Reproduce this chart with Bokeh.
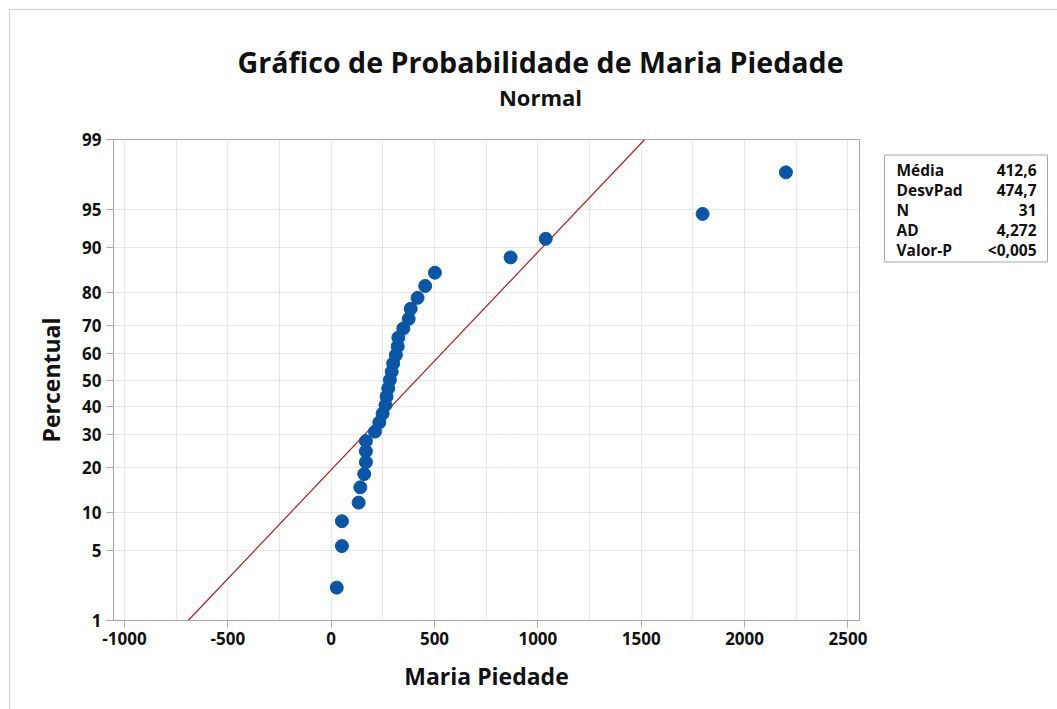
from statistics import NormalDist
from bokeh.plotting import figure
from bokeh.layouts import column, row
from bokeh.models import Range1d, FixedTicker
from bokeh.core.properties import value
from bokeh.embed import file_html
from bokeh.resources import INLINE

# ---------------- data ----------------
title_text = "Gráfico de Probabilidade de Maria Piedade"
subtitle_text = "Normal"
x_label = "Maria Piedade"
y_label = "Percentual"

values = [27, 52, 52, 133, 141, 160, 168, 168, 168, 212, 233, 249, 263, 268,
          276, 284, 293, 300, 313, 322, 325, 349, 375, 385, 418, 455, 502,
          868, 1038, 1797, 2200]
percentiles = [2.23, 5.41, 8.60, 11.78, 14.97, 18.15, 21.34, 24.52, 27.71,
               30.89, 34.08, 37.26, 40.45, 43.63, 46.82, 50.00, 53.18, 56.37,
               59.55, 62.74, 65.92, 69.11, 72.29, 75.48, 78.66, 81.85, 85.03,
               88.22, 91.40, 94.59, 97.77]
mean = 412.6
stdev = 474.7

stat_names = ["Média", "DesvPad", "N", "AD", "Valor-P"]
stat_values = ["412,6", "474,7", "31", "4,272", "<0,005"]

y_tick_percents = [1, 5, 10, 20, 30, 40, 50, 60, 70, 80, 90, 95, 99]
x_major_ticks = [-1000, -500, 0, 500, 1000, 1500, 2000, 2500]
x_tick_labels = ["-1000", "-500", "0", "500", "1000", "1500", "2000", "2500"]
x_minor_ticks = [-750, -250, 250, 750, 1250, 1750, 2250]

# ---------------- transforms ----------------
nd = NormalDist()
def pz(pct):
    return nd.inv_cdf(pct / 100.0)

z_points = [pz(v) for v in percentiles]
y_ticks = [pz(v) for v in y_tick_percents]
z_lo, z_hi = pz(1), pz(99)
line_x = [mean + z_lo * stdev, mean + z_hi * stdev]
line_y = [z_lo, z_hi]

FONT = "Open Sans"
TXT = "#111111"
GRID = "#cfcfcf"
AXC = "#a8a8a8"

TOTAL_W = 1047
TITLE_H = 110
MAIN_W = 859
MAIN_H = 589
STATS_W = TOTAL_W - MAIN_W


def bare(fig):
    fig.xaxis.visible = False
    fig.yaxis.visible = False
    fig.xgrid.visible = False
    fig.ygrid.visible = False
    fig.outline_line_color = None
    fig.background_fill_color = "white"
    fig.border_fill_color = "white"


# ---------------- title strip ----------------
tf = figure(width=TOTAL_W, height=TITLE_H, output_backend="svg", toolbar_location=None,
            x_range=Range1d(0, TOTAL_W), y_range=Range1d(TITLE_H, 0),
            min_border=0, title=None)
bare(tf)
tf.text(x=[530], y=[51], text=[title_text], text_align="center",
        text_baseline="middle", text_font=value(FONT), text_font_style="bold",
        text_font_size=value("28.6px"), text_color=TXT)
tf.text(x=[530], y=[86], text=[subtitle_text], text_align="center",
        text_baseline="middle", text_font=value(FONT), text_font_style="bold",
        text_font_size=value("22px"), text_color=TXT)

# ---------------- main plot ----------------
p = figure(width=MAIN_W, height=MAIN_H, output_backend="svg", toolbar_location=None,
           x_range=Range1d(-1053, 2556), y_range=Range1d(z_lo, z_hi),
           min_border_left=103, min_border_right=10, min_border_top=19,
           min_border_bottom=89, title=None)
p.background_fill_color = "white"
p.border_fill_color = "white"
p.outline_line_color = AXC
p.outline_line_width = 1

p.xaxis.ticker = FixedTicker(ticks=x_major_ticks, minor_ticks=x_minor_ticks)
p.xaxis.major_label_overrides = {t: s for t, s in zip(x_major_ticks, x_tick_labels)}
p.yaxis.ticker = FixedTicker(ticks=y_ticks)
p.yaxis.major_label_overrides = {t: str(v) for t, v in zip(y_ticks, y_tick_percents)}
for ax in (p.xaxis[0], p.yaxis[0]):
    ax.axis_line_color = AXC
    ax.major_tick_line_color = AXC
    ax.major_tick_out = 7
    ax.major_tick_in = 0
    ax.minor_tick_line_color = None
    ax.major_label_text_font = FONT
    ax.major_label_text_font_style = "bold"
    ax.major_label_text_font_size = "17px"
    ax.major_label_text_color = TXT
    ax.axis_label_text_font = FONT
    ax.axis_label_text_font_style = "bold"
    ax.axis_label_text_font_size = "23px"
    ax.axis_label_text_color = TXT
p.xaxis.axis_label = x_label
p.yaxis.axis_label = y_label
p.xaxis.major_label_standoff = 4
p.yaxis.major_label_standoff = 5
p.xaxis.axis_label_standoff = 12
p.yaxis.axis_label_standoff = 12

p.xgrid.grid_line_color = GRID
p.xgrid.grid_line_dash = "1 1"
p.xgrid.minor_grid_line_color = GRID
p.xgrid.minor_grid_line_dash = "1 1"
p.ygrid.grid_line_color = GRID
p.ygrid.grid_line_dash = "1 1"

p.line(line_x, line_y, line_color="#a3231f", line_width=1.2)
p.scatter(values, z_points, size=13, fill_color="#0a56a6", line_color="#0a56a6")

# ---------------- stats box ----------------
sf = figure(width=STATS_W, height=MAIN_H, output_backend="svg", toolbar_location=None,
            x_range=Range1d(0, STATS_W), y_range=Range1d(MAIN_H, 0),
            min_border=0, title=None)
bare(sf)
box_left, box_right, box_top, box_bottom = 15, 178, 19, 150
sf.quad(left=[box_left], right=[box_right], top=[box_top], bottom=[box_bottom],
        fill_color="white", line_color="#a8a8a8", line_width=1)
row_y = [37, 61.5, 86, 110.5, 135]
sf.text(x=[27] * len(stat_names), y=row_y, text=stat_names, text_align="left",
        text_baseline="middle", text_font=value(FONT), text_font_style="bold",
        text_font_size=value("15.5px"), text_color=TXT)
sf.text(x=[167] * len(stat_values), y=row_y, text=stat_values, text_align="right",
        text_baseline="middle", text_font=value(FONT), text_font_style="bold",
        text_font_size=value("15.5px"), text_color=TXT)

layout = column(tf, row(p, sf, spacing=0), spacing=0)
layout.styles = {"margin": "9px 0 0 9px",
                 "border-top": "1px solid #d0d0d0",
                 "border-left": "1px solid #d0d0d0"}

open("out.html", "w").write(file_html(layout, INLINE))
